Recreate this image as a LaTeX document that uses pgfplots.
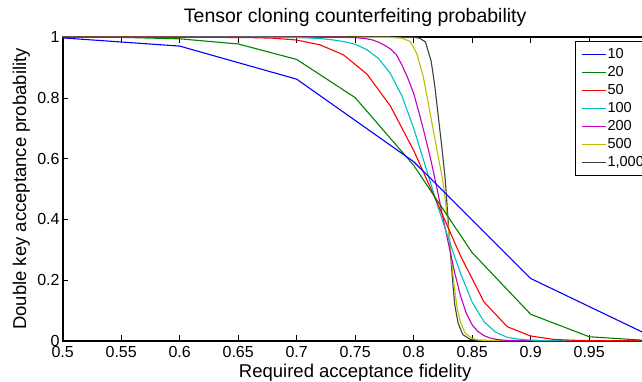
\documentclass[border=0pt]{standalone}
\usepackage{fontspec}
\setmainfont{Liberation Sans}
\usepackage{pgfplots}
\pgfplotsset{compat=1.18}
\definecolor{mb}{rgb}{0,0,1}
\definecolor{mg}{rgb}{0,0.5,0}
\definecolor{mr}{rgb}{1,0,0}
\definecolor{mc}{rgb}{0,0.75,0.75}
\definecolor{mm}{rgb}{0.75,0,0.75}
\definecolor{my}{rgb}{0.75,0.75,0}
\definecolor{mk}{rgb}{0.25,0.25,0.25}
\begin{document}
\begin{tikzpicture}
\begin{axis}[
  at={(0pt,0pt)}, anchor=south west,
  scale only axis, width=585pt, height=303.4pt,
  xmin=0.5, xmax=1, ymin=0, ymax=1,
  clip=false,
  xtick={0.5,0.55,0.6,0.65,0.7,0.75,0.8,0.85,0.9,0.95,1},
  xticklabels={0.5,0.55,0.6,0.65,0.7,0.75,0.8,0.85,0.9,0.95,{}},
  ytick={0,0.2,0.4,0.6,0.8,1},
  yticklabels={0,0.2,0.4,0.6,0.8,1},
  tick align=inside, major tick length=5.5pt,
  xtick pos=both, ytick pos=both,
  every tick/.style={black, line width=0.9pt},
  axis line style={black, line width=1.8pt},
  tick label style={font=\fontsize{16}{18}\selectfont, inner sep=0pt},
  xticklabel style={anchor=north, yshift=-5pt},
  yticklabel style={anchor=east, xshift=-3pt},
  title={Tensor cloning counterfeiting probability},
  title style={at={(0.5,1)}, anchor=base, yshift=9pt, font=\fontsize{19.5}{22}\selectfont, inner sep=0pt},
  xlabel={Required acceptance fidelity},
  xlabel style={at={(axis description cs:0.5,0)}, anchor=base, yshift=-36.5pt, font=\fontsize{18.5}{20}\selectfont, inner sep=0pt},
  ylabel={Double key acceptance probability},
  ylabel style={at={(axis description cs:-0.0624,0.5)}, anchor=base, font=\fontsize{18.5}{20}\selectfont, inner sep=0pt},
  reverse legend,
  legend image code/.code={\draw[#1, line width=1.3pt] (0pt,0pt) -- (24.3pt,0pt);},
  legend style={at={(axis description cs:0.8757,0.9878)}, anchor=north west,
    draw=black, line width=1pt, fill=white,
    font=\fontsize{14.5}{16}\selectfont,
    inner sep=5.5pt, row sep=3.5pt,
    nodes={inner sep=1pt, text height=10.5pt, text depth=2pt},
    legend cell align=left},
  every axis plot/.append style={line width=1.1pt},
]
% n = 1000
\addplot[color=mk, draw=mk] coordinates {(0.5,1) (0.8,1) (0.805,0.997) (0.81,0.985) (0.815,0.92) (0.818,0.84) (0.821,0.74) (0.824,0.64) (0.827,0.53) (0.829,0.42) (0.831,0.31) (0.833,0.21) (0.835,0.12) (0.838,0.057) (0.842,0.02) (0.848,0.005) (0.855,0.001) (0.87,0) (1,0)};
% n = 500
\addplot[color=my, draw=my] coordinates {(0.5,1) (0.78,1) (0.79,0.997) (0.797,0.986) (0.8026,0.947) (0.8082,0.870) (0.8125,0.782) (0.8167,0.694) (0.821,0.606) (0.8248,0.53) (0.828,0.43) (0.831,0.32) (0.834,0.20) (0.837,0.11) (0.84,0.06) (0.844,0.025) (0.85,0.007) (0.856,0.002) (0.87,0) (1,0)};
% n = 200
\addplot[color=mm, draw=mm] coordinates {(0.5,1) (0.74,1) (0.75,0.999) (0.76,0.995) (0.765,0.991) (0.77,0.984) (0.775,0.974) (0.78,0.962) (0.785,0.944) (0.79,0.908) (0.795,0.865) (0.80,0.815) (0.805,0.745) (0.81,0.67) (0.815,0.59) (0.82,0.50) (0.825,0.405) (0.83,0.315) (0.835,0.225) (0.84,0.148) (0.845,0.09) (0.85,0.052) (0.855,0.03) (0.86,0.017) (0.865,0.009) (0.87,0.005) (0.875,0.0025) (0.88,0.001) (0.89,0.0003) (0.9,0) (1,0)};
% n = 100
\addplot[color=mc, draw=mc] coordinates {(0.5,1) (0.68,1) (0.70,0.999) (0.71,0.998) (0.72,0.996) (0.73,0.992) (0.74,0.986) (0.75,0.977) (0.76,0.959) (0.77,0.93) (0.78,0.881) (0.79,0.806) (0.80,0.70) (0.81,0.575) (0.82,0.45) (0.83,0.333) (0.84,0.222) (0.85,0.127) (0.86,0.063) (0.87,0.028) (0.88,0.011) (0.89,0.005) (0.90,0.002) (0.91,0.0007) (0.92,0.0002) (0.94,0) (1,0)};
% n = 50
\addplot[color=mr, draw=mr] coordinates {(0.5,1) (0.6,1) (0.64,0.9995) (0.66,0.999) (0.68,0.997) (0.70,0.991) (0.72,0.975) (0.74,0.942) (0.76,0.879) (0.78,0.774) (0.80,0.627) (0.82,0.455) (0.84,0.28) (0.86,0.128) (0.88,0.046) (0.90,0.0155) (0.92,0.004) (0.94,0.001) (0.96,0.0002) (0.98,0) (1,0)};
% n = 20
\addplot[color=mg, draw=mg] coordinates {(0.5,1) (0.55,0.9998) (0.6,0.995) (0.65,0.978) (0.7,0.927) (0.75,0.801) (0.8,0.578) (0.85,0.29) (0.9,0.087) (0.95,0.013) (1,0.0006)};
% n = 10
\addplot[color=mb, draw=mb] coordinates {(0.5,0.998) (0.6,0.971) (0.7,0.862) (0.8,0.59) (0.9,0.205) (1,0.02)};
\legend{1{,}000,500,200,100,50,20,10}
\end{axis}
\pgfresetboundingbox
\path[use as bounding box] (-62.7pt,-41.3pt) rectangle (579.3pt,340.7pt);
\end{tikzpicture}
\end{document}
